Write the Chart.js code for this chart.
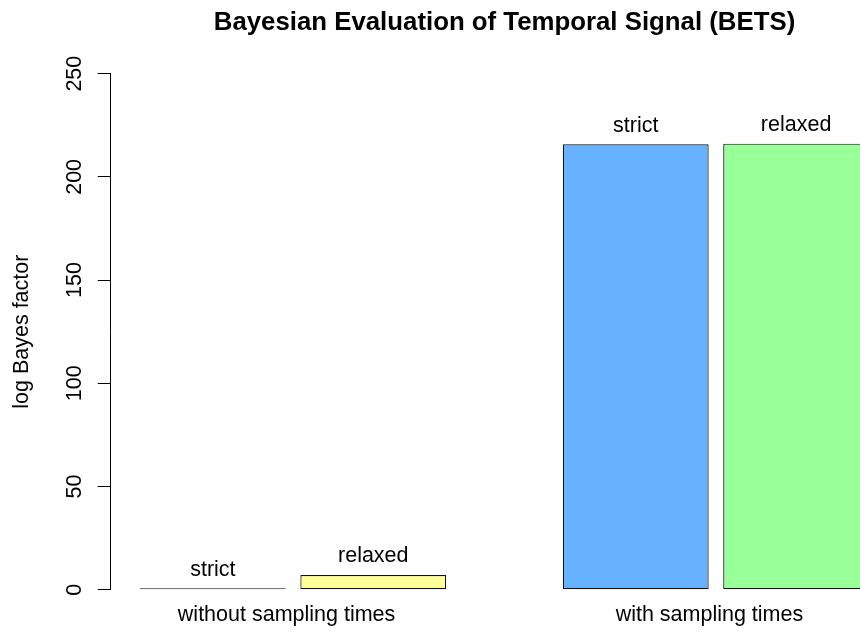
<!DOCTYPE html>
<html>
<head>
<meta charset="utf-8">
<script src="https://cdn.jsdelivr.net/npm/chart.js@4/dist/chart.umd.min.js"></script>
<style>
  html, body { margin: 0; padding: 0; background: #ffffff; overflow: hidden; }
  #wrap { width: 860px; height: 632px; overflow: hidden; position: relative; }
  #c { position: absolute; left: 0; top: 0; }
</style>
</head>
<body>
<div id="wrap"><canvas id="c" width="900" height="632"></canvas></div>
<script>
// ---- data ----
const groups = ['without sampling times', 'with sampling times'];
const models = ['strict', 'relaxed'];
const strictValues = [0, 215.8];
const relaxedValues = [7.1, 216.1];
const yTicks = [0, 50, 100, 150, 200, 250];
const chartTitle = 'Bayesian Evaluation of Temporal Signal (BETS)';
const yTitle = 'log Bayes factor';

// ---- styles / layout ----
const FONT = '"Liberation Sans", Arial, Helvetica, sans-serif';
const strictColors = ['#111111', '#66b2ff'];
const relaxedColors = ['#ffff99', '#99ff99'];
const BORDER = '#111111';
// R-like barplot geometry: bar width 1, space 0.1 within group, 0.8 between groups
const barW = 1, inSpace = 0.1, grpSpace = 0.8, pad = 0.2;
const groupSpan = 2 * barW + inSpace;            // 2.1
const groupStep = groupSpan + grpSpace;          // 2.9
const sideMargin = (pad + groupSpan / 2) / groupStep; // in group units

const barLabelPlugin = {
  id: 'barLabels',
  afterDatasetsDraw(chart) {
    const ctx = chart.ctx;
    ctx.save();
    ctx.font = '21.5px ' + FONT;
    ctx.fillStyle = '#000';
    ctx.textAlign = 'center';
    ctx.textBaseline = 'alphabetic';
    chart.data.datasets.forEach((ds, di) => {
      chart.getDatasetMeta(di).data.forEach(bar => {
        const top = Math.min(bar.y, bar.base);
        ctx.fillText(ds.label, bar.x, top - 12.6);
      });
    });
    ctx.restore();
  }
};

const mk = (vals) => vals.map((v, i) => ({ x: i, y: v }));

new Chart(document.getElementById('c'), {
  type: 'bar',
  data: {
    datasets: [
      { label: models[0], data: mk(strictValues), backgroundColor: strictColors },
      { label: models[1], data: mk(relaxedValues), backgroundColor: relaxedColors }
    ]
  },
  options: {
    responsive: false,
    animation: false,
    devicePixelRatio: 1,
    layout: { padding: { left: 0, right: 1.8, top: 0, bottom: 0 } },
    datasets: {
      bar: {
        borderColor: BORDER,
        borderWidth: 1.2,
        borderSkipped: false,
        minBarLength: 1.4,
        categoryPercentage: (groupSpan + inSpace) / groupStep,
        barPercentage: barW / (barW + inSpace)
      }
    },
    plugins: {
      legend: { display: false },
      tooltip: { enabled: false },
      title: {
        display: true,
        text: chartTitle,
        fullSize: false,
        color: '#000',
        font: { family: FONT, size: 25.8, weight: 'bold' },
        padding: { top: 7.4, bottom: 35.3 }
      }
    },
    scales: {
      x: {
        type: 'linear',
        offset: false,
        min: -sideMargin,
        max: groups.length - 1 + sideMargin,
        grid: { display: false, drawTicks: false, offset: false },
        border: { display: false },
        afterBuildTicks: (s) => { s.ticks = groups.map((g, i) => ({ value: i })); },
        afterFit: (s) => { s.height = 42.3; },
        ticks: {
          autoSkip: false,
          maxRotation: 0,
          minRotation: 0,
          padding: 12.3,
          labelOffset: -6.5,
          color: '#000',
          font: { family: FONT, size: 21.5 },
          callback: (v) => groups[v]
        }
      },
      y: {
        type: 'linear',
        min: yTicks[0],
        max: yTicks[yTicks.length - 1],
        afterBuildTicks: (s) => { s.ticks = yTicks.map(v => ({ value: v })); },
        afterFit: (s) => { s.width = 110.8; },
        border: { display: true, color: '#000', width: 1 },
        grid: { drawOnChartArea: false, drawTicks: true, tickLength: 13, color: '#000', lineWidth: 1 },
        ticks: {
          minRotation: 90,
          maxRotation: 90,
          crossAlign: 'center',
          padding: 4.6,
          color: '#000',
          font: { family: FONT, size: 21.5 }
        },
        title: {
          display: true,
          text: yTitle,
          color: '#000',
          font: { family: FONT, size: 21.5 },
          padding: { top: 8.7, bottom: 0 }
        }
      }
    }
  },
  plugins: [barLabelPlugin]
});
</script>
</body>
</html>
